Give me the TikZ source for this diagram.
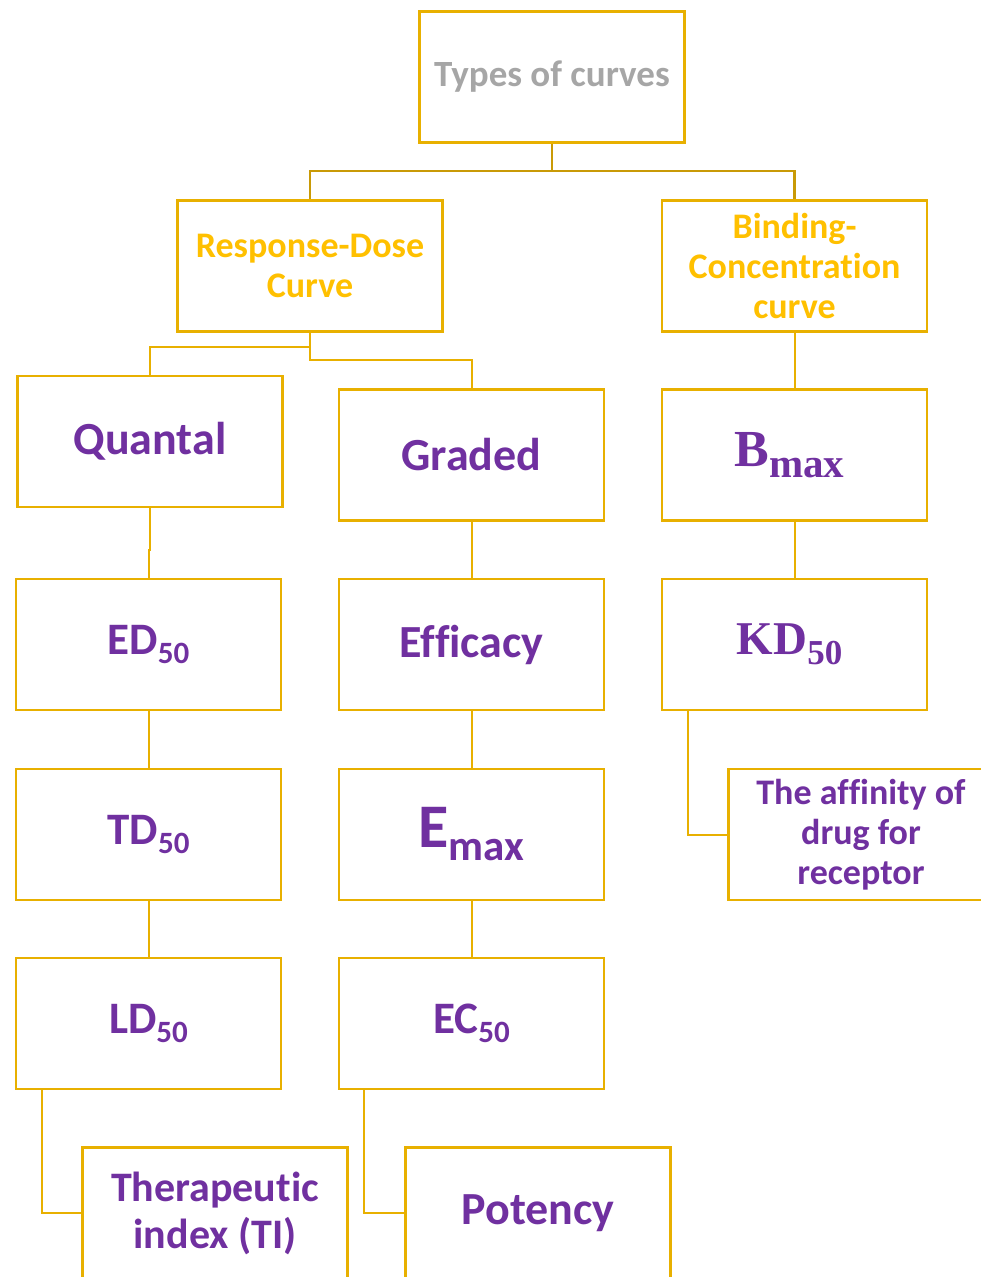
\documentclass[tikz,border=0pt]{standalone}
\usepackage{fontspec}
\setmainfont{Carlito}[Ligatures=NoCommon]
\newfontfamily\serifb{Liberation Serif}
\definecolor{boxc}{HTML}{E8B000}
\definecolor{topc}{HTML}{C99A06}
\definecolor{purp}{HTML}{7030A0}
\definecolor{gold}{HTML}{FFC000}
\definecolor{grayt}{HTML}{A6A6A6}
\tikzset{
  box/.style={draw=boxc, line width=2.8pt, minimum width=265pt, minimum height=131pt,
    inner sep=0pt, align=center, fill=white},
  big/.style={font=\bfseries\fontsize{46}{52}\selectfont, text=purp},
  mid/.style={font=\bfseries\fontsize{36}{40}\selectfont},
  conn/.style={draw=boxc, line width=2pt},
  topconn/.style={draw=topc, line width=2.4pt},
}
\newcommand{\subl}[2]{{\fontsize{45}{50}\selectfont #1}\raisebox{-9pt}{\fontsize{31}{36}\selectfont #2}}
\begin{document}
\begin{tikzpicture}[x=1pt,y=-1pt]
\useasboundingbox (0,0) rectangle (981,1277);
\clip (0,0) rectangle (981,1277);
% nodes
\node[box, mid, text=grayt, font=\bfseries\fontsize{37}{44}\selectfont] (top) at (552,77) {Types of curves};
\node[box, mid, text=gold] (rd) at (310,266) {Response-Dose\\Curve};
\node[box, mid, text=gold] (bc) at (794.5,266) {Binding-\\Concentration\\curve};
\node[box, big] (quantal) at (150,441.5) {Quantal};
\node[box, big] (graded) at (471.5,455) {Graded};
\node[box, text=purp, font=\bfseries] (bmax) at (794.5,455) {\hspace*{-10pt}{\serifb\bfseries\fontsize{52}{56}\selectfont B}\raisebox{-11pt}{\serifb\bfseries\fontsize{41}{46}\selectfont max}};
\node[box, big, font=\bfseries] (ed) at (148.5,644.5) {\subl{ED}{50}};
\node[box, big] (eff) at (471.5,644.5) {Efficacy};
\node[box, text=purp, font=\bfseries] (kd) at (794.5,644.5) {\hspace*{-10pt}{\serifb\bfseries\fontsize{47}{52}\selectfont KD}\raisebox{-10pt}{\serifb\bfseries\fontsize{35}{40}\selectfont 50}};
\node[box, big, font=\bfseries] (td) at (148.5,834.5) {\subl{TD}{50}};
\node[box, text=purp, font=\bfseries] (emax) at (471.5,834.5) {{\fontsize{62}{66}\selectfont E}\raisebox{-13pt}{\fontsize{43}{48}\selectfont max}};
\node[box, mid, text=purp] (aff) at (861,834.5) {The affinity of\\drug for\\receptor};
\node[box, big, font=\bfseries] (ld) at (148.5,1023.5) {\subl{LD}{50}};
\node[box, big, font=\bfseries] (ec) at (471.5,1023.5) {\subl{EC}{50}};
\node[box, text=purp, font=\bfseries\fontsize{42}{47}\selectfont] (ti) at (215,1213) {Therapeutic\\index (TI)};
\node[box, big] (pot) at (538,1213) {Potency};
% junction levels
\coordinate (j1) at (0,171);
\coordinate (j2) at (0,347);
\coordinate (j3) at (0,360);
\coordinate (j4) at (0,550);
% connectors
\draw[topconn] (top.south) -- (top.south |- j1) -| (rd.north);
\draw[topconn] (top.south |- j1) -| (bc.north);
\draw[conn] (rd.south) -- (rd.south |- j3) -| (graded.north);
\draw[conn] (rd.south |- j2) -| (quantal.north);
\draw[conn] (bc.south) -- (bmax.north);
\draw[conn] (quantal.south) -- (quantal.south |- j4) -| (ed.north);
\draw[conn] (graded.south) -- (eff.north);
\draw[conn] (bmax.south) -- (kd.north);
\draw[conn] (ed.south) -- (td.north);
\draw[conn] (eff.south) -- (emax.north);
\draw[conn] (td.south) -- (ld.north);
\draw[conn] (emax.south) -- (ec.north);
\draw[conn] ([xshift=27pt]kd.south west) |- (aff.west);
\draw[conn] ([xshift=27pt]ld.south west) |- (ti.west);
\draw[conn] ([xshift=26pt]ec.south west) |- (pot.west);
\end{tikzpicture}
\end{document}
